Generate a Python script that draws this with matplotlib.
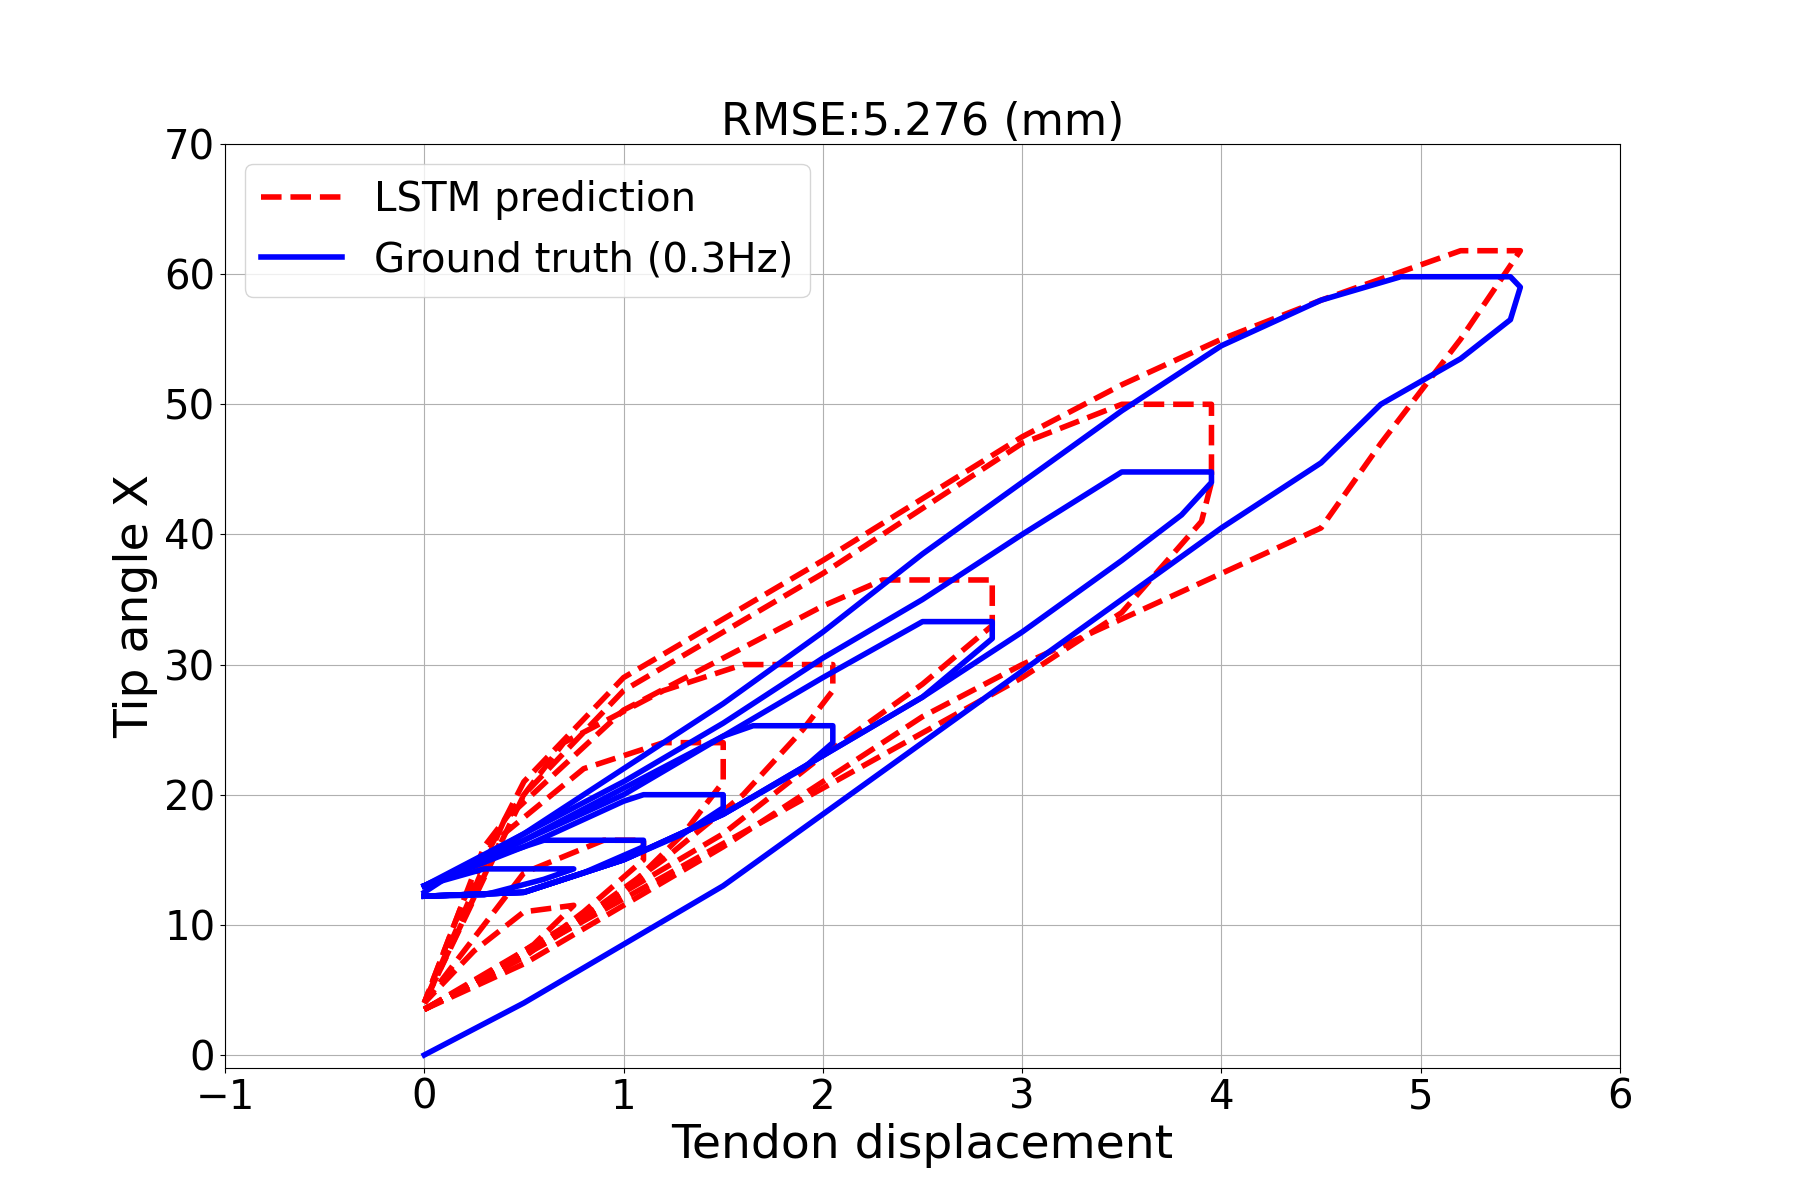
import matplotlib
matplotlib.use('Agg')
import matplotlib.pyplot as plt

# Ground truth loops (blue)
gt_loops = [
    ([0, 0.5, 1, 1.5, 2, 2.5, 3, 3.5, 4, 4.5, 4.8, 5.2, 5.45, 5.5, 5.45, 5.2, 4.9, 4.5, 4, 3.5, 3, 2.5, 2, 1.5, 1, 0.5, 0.1, 0],
     [0, 4, 8.5, 13, 18.5, 24, 29.5, 35, 40.5, 45.5, 50, 53.5, 56.5, 59, 59.8, 59.8, 59.8, 58, 54.5, 49.5, 44, 38.5, 32.5, 27, 22, 17, 13.5, 12.5]),
    ([0, 0.5, 1, 1.5, 2, 2.5, 3, 3.5, 3.8, 3.95, 3.95, 3.5, 3, 2.5, 2, 1.5, 1, 0.5, 0],
     [12.2, 12.5, 15, 18.5, 23, 27.5, 32.5, 38, 41.5, 44, 44.8, 44.8, 40, 35, 30.5, 25.5, 21, 17, 13]),
    ([0, 0.5, 1, 1.5, 2, 2.5, 2.85, 2.85, 2.5, 2, 1.5, 1, 0.5, 0],
     [12.2, 12.5, 15, 18.5, 23, 27.5, 32, 33.3, 33.3, 29, 24.5, 20.5, 16.5, 13]),
    ([0, 0.5, 1, 1.5, 1.9, 2.05, 2.05, 1.65, 1.5, 1, 0.5, 0],
     [12.2, 12.5, 15, 18.5, 22, 24, 25.3, 25.3, 24.5, 20, 16.5, 13]),
    ([0, 0.5, 1, 1.3, 1.5, 1.5, 1.1, 1, 0.5, 0],
     [12.2, 12.5, 15, 17, 19, 20, 20, 19.5, 16, 13]),
    ([0, 0.5, 0.8, 1.1, 1.1, 0.6, 0.3, 0],
     [12.2, 12.5, 14, 16, 16.5, 16.5, 15, 13]),
    ([0, 0.3, 0.6, 0.75, 0.3, 0],
     [12.2, 12.3, 13.5, 14.3, 14.3, 13]),
]

# LSTM prediction loops (red)
pred_loops = [
    ([0, 0.5, 1, 1.5, 2, 2.5, 3, 3.5, 4, 4.5, 4.8, 5.2, 5.5, 5.2, 4.5, 4, 3.5, 3, 2, 1, 0.5, 0.2, 0],
     [3.5, 7, 11.5, 16, 21, 26, 30, 33.5, 37, 40.5, 47, 55, 61.8, 61.8, 58, 55, 51.5, 47.5, 38, 29, 21, 12, 4]),
    ([0, 1, 2, 3, 3.5, 3.9, 3.95, 3.95, 3.5, 3, 2, 1, 0.5, 0],
     [3.5, 12, 20.5, 29, 34, 41, 44, 50, 50, 47, 37, 28, 20, 4]),
    ([0, 1, 1.5, 2, 2.5, 2.85, 2.85, 2.3, 2, 1, 0.4, 0],
     [3.5, 12.5, 17, 23, 28.5, 33, 36.5, 36.5, 34.5, 26.5, 18, 4]),
    ([0, 0.7, 1.2, 1.6, 1.9, 2.05, 2.05, 1.6, 1.2, 0.7, 0.3, 0],
     [3.5, 9.5, 15, 20, 25, 28, 30, 30, 28, 24, 16, 4]),
    ([0, 0.6, 1, 1.3, 1.5, 1.5, 1.2, 0.8, 0.4, 0],
     [3.5, 8.5, 12.5, 17, 21, 24, 24, 22, 17, 4]),
    ([0, 0.5, 0.8, 1.1, 1.1, 0.9, 0.5, 0.2, 0],
     [3.5, 7.5, 11, 15, 16.5, 16.5, 14, 8, 4]),
    ([0, 0.3, 0.55, 0.75, 0.5, 0.25, 0],
     [3.5, 6, 8.5, 11.5, 11, 8, 4]),
]

fig, ax = plt.subplots(figsize=(18, 12), dpi=100)
for i, (x, y) in enumerate(pred_loops):
    ax.plot(x, y, '--', color='red', lw=4, label='LSTM prediction' if i == 0 else None)
for i, (x, y) in enumerate(gt_loops):
    ax.plot(x, y, '-', color='blue', lw=4, label='Ground truth (0.3Hz)' if i == 0 else None)

ax.set_xlim(-1, 6)
ax.set_ylim(-1, 70)
ax.set_title("RMSE:5.276 (mm)", fontsize=32)
ax.set_xlabel("Tendon displacement", fontsize=34)
ax.set_ylabel("Tip angle X", fontsize=34)
ax.tick_params(labelsize=29)
ax.grid(True)
ax.legend(loc='upper left', fontsize=29)

fig.savefig("out.png")
